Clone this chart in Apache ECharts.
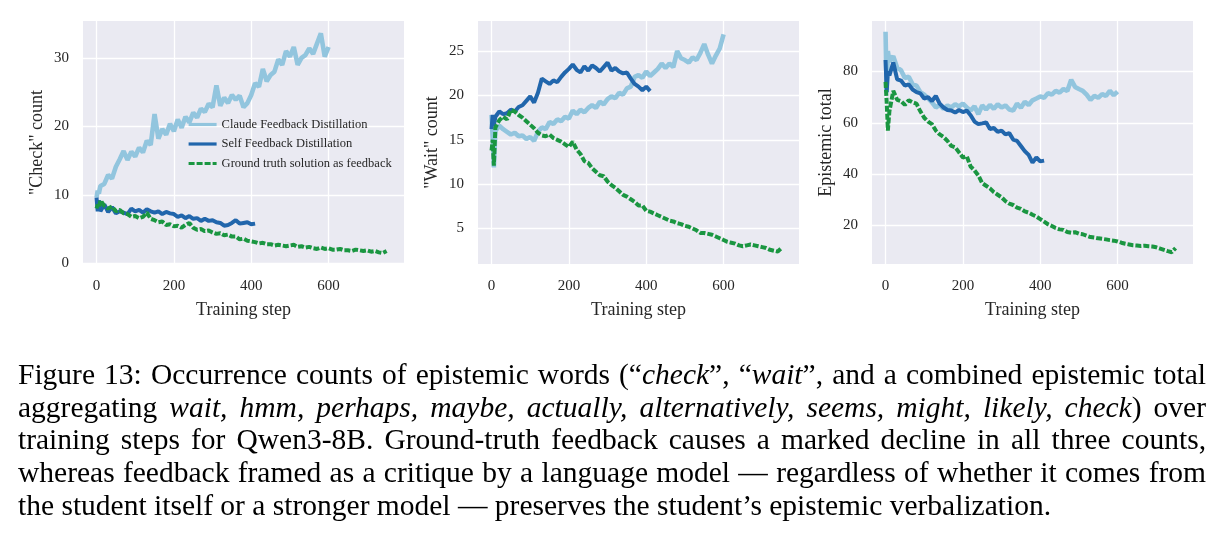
<!DOCTYPE html>
<html>
<head>
<meta charset="utf-8">
<script src="https://cdn.jsdelivr.net/npm/echarts@6/dist/echarts.min.js"></script>
<style>
  html, body { margin: 0; padding: 0; background: #fff; }
  #main { width: 1224px; height: 537px; }
</style>
</head>
<body>
<div id="main"></div>
<script>
// first few steps are sampled finer, then every 10 steps from step 10
const earlySteps = [0, 3, 6]
const gridStart = 10
const gridStep = 10

const names = ['Claude Feedback Distillation', 'Self Feedback Distillation', 'Ground truth solution as feedback']
const xTicks = [0, 200, 400, 600]

// "Check" count
const checkClaudeEarly = [9.6, 10.6, 10.2]
const checkClaude = [11.3, 11.6, 12.9, 12.4, 14.1, 15.2, 16.4, 15.1, 16.3, 15.6, 16.9, 16.2, 17.9, 17.3, 21.8, 18.2, 19.6, 18.8, 20.4, 19.3, 21.0, 19.8, 21.4, 20.6, 22.0, 21.3, 22.6, 22.1, 23.3, 22.8, 26.0, 23.0, 24.2, 23.4, 24.6, 23.9, 24.5, 22.8, 23.4, 24.6, 26.3, 25.8, 28.4, 26.6, 27.5, 28.0, 29.8, 29.0, 31.0, 30.2, 31.6, 29.0, 30.0, 30.4, 31.4, 30.6, 32.1, 33.6, 30.2, 31.6]
const checkSelfEarly = [9.6, 7.6, 9.2]
const checkSelf = [7.6, 8.6, 7.5, 8.2, 7.3, 7.6, 7.4, 7.2, 8.0, 7.6, 7.8, 7.4, 7.9, 7.6, 7.4, 7.6, 7.2, 7.5, 7.3, 7.2, 6.8, 7.0, 6.6, 6.9, 6.5, 6.6, 6.2, 6.5, 6.2, 6.3, 6.0, 5.9, 5.5, 5.6, 5.9, 6.3, 5.8, 5.9, 6.0, 5.7, 5.8]
const checkGtEarly = [8.0, 8.6, 8.2]
const checkGt = [9.2, 8.4, 8.0, 8.3, 7.6, 7.8, 7.3, 7.2, 6.8, 6.9, 6.6, 6.8, 7.4, 6.5, 6.3, 6.0, 6.1, 5.6, 5.7, 5.4, 5.5, 5.2, 5.6, 5.9, 5.2, 4.9, 5.0, 4.7, 4.8, 4.5, 4.3, 4.4, 4.1, 4.2, 3.9, 3.9, 3.5, 3.6, 3.3, 3.2, 3.1, 2.9, 3.0, 2.8, 2.8, 2.6, 2.7, 2.6, 2.5, 2.6, 2.7, 2.4, 2.5, 2.3, 2.4, 2.2, 2.1, 2.3, 2.1, 2.2, 2.0, 2.0, 2.1, 1.9, 1.9, 1.8, 2.0, 1.9, 1.8, 1.9, 1.7, 1.8, 1.6, 1.5, 1.8]

// "Wait" count
const waitClaudeEarly = [17.8, 15.2, 11.9]
const waitClaude = [16.0, 16.6, 16.2, 15.9, 15.6, 15.8, 15.4, 15.5, 15.1, 15.3, 14.9, 15.9, 16.4, 16.2, 17.0, 16.8, 17.3, 17.1, 17.6, 17.4, 18.3, 17.9, 18.4, 18.1, 18.6, 18.9, 18.6, 19.3, 19.0, 19.6, 19.9, 19.7, 20.3, 20.1, 20.8, 21.0, 22.1, 22.3, 22.0, 22.7, 22.2, 22.6, 23.0, 23.6, 23.1, 23.6, 23.2, 25.0, 24.2, 24.0, 23.7, 24.3, 24.0, 24.8, 25.8, 24.6, 23.6, 24.5, 25.3, 26.9]
const waitSelfEarly = [16.2, 17.8, 16.6]
const waitSelf = [17.6, 18.2, 17.9, 18.0, 18.4, 18.2, 18.7, 18.9, 19.4, 19.9, 19.2, 20.3, 21.9, 21.6, 21.3, 21.7, 21.5, 22.1, 22.6, 23.0, 23.5, 22.9, 22.6, 23.3, 22.8, 23.4, 23.1, 22.7, 23.2, 23.7, 22.8, 23.1, 22.7, 22.5, 22.6, 21.9, 21.3, 21.0, 20.6, 21.0, 20.5]
const waitGtEarly = [13.8, 15.0, 12.1]
const waitGt = [16.4, 17.2, 17.6, 17.3, 18.4, 18.2, 17.8, 17.5, 17.1, 16.7, 16.3, 15.8, 15.5, 15.4, 15.6, 15.2, 15.0, 14.8, 14.5, 14.2, 14.8, 13.9, 13.4, 12.6, 12.4, 11.8, 11.4, 11.0, 10.9, 10.3, 9.9, 9.6, 9.2, 8.8, 8.6, 8.3, 8.0, 7.6, 7.6, 7.0, 6.9, 6.7, 6.5, 6.3, 6.1, 5.9, 5.8, 5.6, 5.5, 5.3, 5.2, 5.0, 4.8, 4.5, 4.5, 4.4, 4.3, 4.1, 3.9, 3.7, 3.5, 3.4, 3.3, 3.1, 3.0, 3.1, 3.2, 3.1, 3.0, 2.9, 2.8, 2.6, 2.5, 2.4, 2.8]

// Epistemic total
const totalClaudeEarly = [95.5, 72.0, 88.0]
const totalClaude = [84.0, 86.0, 81.5, 80.5, 77.5, 78.0, 75.0, 74.5, 72.0, 71.0, 69.5, 68.0, 66.0, 67.0, 65.5, 66.8, 66.0, 67.3, 66.4, 67.5, 66.0, 64.8, 66.5, 63.4, 66.8, 65.2, 67.0, 65.5, 67.2, 66.0, 66.8, 65.2, 64.8, 67.5, 65.9, 68.2, 67.0, 68.8, 69.5, 70.3, 69.8, 71.6, 71.0, 72.5, 71.8, 73.2, 72.4, 76.8, 74.0, 73.2, 72.5, 71.0, 69.0, 70.5, 69.8, 71.2, 70.5, 72.5, 70.8, 72.2]
const totalSelfEarly = [84.5, 72.0, 80.0]
const totalSelf = [78.5, 83.5, 77.0, 76.5, 74.5, 75.0, 73.0, 72.0, 71.5, 69.5, 70.0, 68.5, 70.5, 67.5, 66.0, 65.0, 64.8, 64.0, 65.0, 64.2, 64.8, 63.0, 60.5, 59.5, 59.8, 60.2, 57.6, 58.0, 56.5, 57.0, 55.5, 56.0, 53.5, 53.0, 51.0, 49.0, 47.5, 44.5, 46.5, 45.0, 45.3]
const totalGtEarly = [76.0, 68.0, 57.0]
const totalGt = [64.5, 72.5, 69.0, 68.5, 67.0, 68.8, 68.0, 67.5, 64.5, 62.0, 60.5, 59.5, 57.0, 55.5, 54.5, 53.0, 51.0, 50.5, 48.5, 46.5, 47.0, 43.0, 41.5, 39.5, 36.5, 35.5, 34.5, 33.0, 32.0, 31.0, 29.5, 28.5, 28.0, 27.0, 26.5, 25.5, 25.0, 24.2, 23.5, 22.5, 21.5, 20.5, 19.8, 19.0, 18.5, 18.3, 17.5, 17.2, 17.4, 16.8, 16.6, 16.0, 15.5, 15.3, 15.0, 14.8, 14.6, 14.3, 14.1, 13.8, 13.3, 12.9, 12.6, 12.3, 12.2, 12.0, 12.1, 11.9, 11.8, 11.5, 11.0, 10.5, 10.0, 9.6, 11.2]

const captionLines = [
  'Figure 13: Occurrence counts of epistemic words (“{i|check}”, “{i|wait}”, and a combined epistemic total',
  'aggregating {i|wait,} {i|hmm,} {i|perhaps,} {i|maybe,} {i|actually,} {i|alternatively,} {i|seems,} {i|might,} {i|likely,} {i|check}) over',
  'training steps for Qwen3-8B. Ground-truth feedback causes a marked decline in all three counts,',
  'whereas feedback framed as a critique by a language model — regardless of whether it comes from',
  'the student itself or a stronger model — preserves the student’s epistemic verbalization.'
]

const SERIF = '"Liberation Serif", "DejaVu Serif", serif'
const TXT = '#262626'
const colors = ['#92c5de', '#2166ac', '#1a9641']

const toPoints = (early, vals) =>
  early.map((v, i) => [earlySteps[i], v]).concat(vals.map((v, i) => [gridStart + gridStep * i, v]))

const panels = [
  { left: 83, name: '"Check" count', min: -0.1, max: 35.4, ticks: [0, 10, 20, 30],
    series: [toPoints(checkClaudeEarly, checkClaude), toPoints(checkSelfEarly, checkSelf), toPoints(checkGtEarly, checkGt)] },
  { left: 478, name: '"Wait" count', min: 1.0, max: 28.4, ticks: [5, 10, 15, 20, 25],
    series: [toPoints(waitClaudeEarly, waitClaude), toPoints(waitSelfEarly, waitSelf), toPoints(waitGtEarly, waitGt)] },
  { left: 872, name: 'Epistemic total', min: 5, max: 99.7, ticks: [20, 40, 60, 80],
    series: [toPoints(totalClaudeEarly, totalClaude), toPoints(totalSelfEarly, totalSelf), toPoints(totalGtEarly, totalGt)] }
]

let grids = [], xAxes = [], yAxes = [], seriesList = []
panels.forEach((p, gi) => {
  grids.push({ left: p.left, top: 21, width: 321, height: 243, show: true, backgroundColor: '#eaeaf2', borderWidth: 0 })
  xAxes.push({
    type: 'value', gridIndex: gi, min: -35, max: 795,
    name: 'Training step', nameLocation: 'middle', nameGap: 37,
    nameTextStyle: { fontFamily: SERIF, fontSize: 18, color: TXT },
    axisLine: { show: false },
    axisTick: { show: false, customValues: xTicks },
    axisLabel: { customValues: xTicks, fontFamily: SERIF, fontSize: 15, color: TXT, margin: 15 },
    splitLine: { show: true, lineStyle: { color: '#ffffff', width: 1.3 } }
  })
  yAxes.push({
    type: 'value', gridIndex: gi, min: p.min, max: p.max,
    name: p.name, nameLocation: 'middle', nameGap: 37,
    nameTextStyle: { fontFamily: SERIF, fontSize: 18, color: TXT },
    axisLine: { show: false },
    axisTick: { show: false, customValues: p.ticks },
    axisLabel: { customValues: p.ticks, fontFamily: SERIF, fontSize: 15, color: TXT, margin: 14 },
    splitLine: { show: true, lineStyle: { color: '#ffffff', width: 1.3 } }
  })
  p.series.forEach((data, si) => {
    seriesList.push({
      name: names[si], type: 'line', xAxisIndex: gi, yAxisIndex: gi,
      data: data, showSymbol: false, symbol: 'none', silent: true,
      lineStyle: { color: colors[si], width: si === 0 ? 4.6 : 4.0, type: si === 2 ? [6, 2] : 'solid' },
      itemStyle: { color: colors[si] },
      z: 2 + si
    })
  })
})

// caption: justified lines, measured with canvas so words can be spread out
const capSize = 29.5
const capLeft = 18
const capRight = 1206
const capBaselines = [384, 416.8, 449.5, 482.3, 515]
const ctx = document.createElement('canvas').getContext('2d')
const fontOf = (it) => (it ? 'italic ' : '') + capSize + 'px "Liberation Serif"'
const parseWord = (w) => {
  const segs = []
  w.replace(/\{i\|([^}]*)\}|([^{]+)/g, (m, it, rm) => {
    segs.push(it !== undefined ? { t: it, it: true } : { t: rm, it: false })
    return m
  })
  segs.forEach(s => { ctx.font = fontOf(s.it); s.w = ctx.measureText(s.t).width })
  return segs
}
ctx.font = fontOf(false)
const spaceW = ctx.measureText(' ').width
let graphics = []
captionLines.forEach((line, li) => {
  const words = line.split(' ').map(parseWord)
  const wordW = words.map(segs => segs.reduce((a, s) => a + s.w, 0))
  const total = wordW.reduce((a, b) => a + b, 0)
  const last = li === captionLines.length - 1
  const gap = last ? spaceW : (capRight - capLeft - total) / (words.length - 1)
  let x = capLeft
  words.forEach((segs, wi) => {
    let sx = x
    segs.forEach(s => {
      graphics.push({
        type: 'text', x: sx, y: capBaselines[li] + 7, silent: true,
        style: { text: s.t, font: fontOf(s.it), fill: '#000', align: 'left', verticalAlign: 'bottom' }
      })
      sx += s.w
    })
    x += wordW[wi] + gap
  })
})

const myChart = echarts.init(document.getElementById('main'), null, { renderer: 'canvas' })
myChart.setOption({
  animation: false,
  backgroundColor: '#ffffff',
  grid: grids,
  xAxis: xAxes,
  yAxis: yAxes,
  legend: {
    data: names, orient: 'vertical', left: 182, top: 113,
    itemWidth: 28, itemHeight: 12, itemGap: 6.5, selectedMode: false,
    itemStyle: { opacity: 0 },
    lineStyle: { width: 3.2 },
    textStyle: { fontFamily: SERIF, fontSize: 12.5, color: TXT }
  },
  series: seriesList,
  graphic: graphics
})
</script>
</body>
</html>
